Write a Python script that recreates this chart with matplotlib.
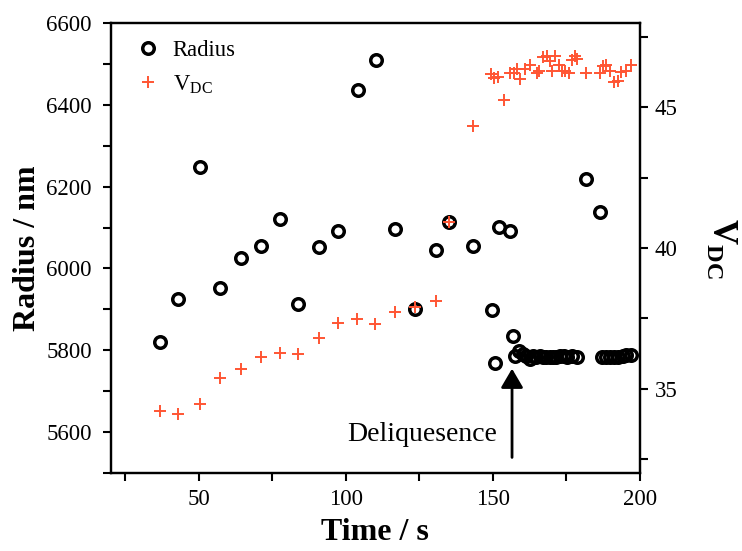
import matplotlib
matplotlib.use("Agg")
import matplotlib.pyplot as plt
from matplotlib.ticker import MultipleLocator, FuncFormatter

plt.rcParams['font.family'] = ['Liberation Serif', 'DejaVu Serif']
plt.rcParams['mathtext.fontset'] = 'custom'
plt.rcParams['mathtext.rm'] = 'Liberation Serif'
plt.rcParams['mathtext.bf'] = 'Liberation Serif:bold'

# Radius data (time in s, radius in nm)
time_r = [36.7, 43.1, 50.3, 57.3, 64.3, 71.0, 77.5, 83.7, 90.9, 97.3,
          104.2, 110.1, 116.6, 123.4, 130.6, 135.1, 143.3, 149.7, 150.7,
          152.0, 155.8, 156.7,
          157.5, 159.0, 160.3, 161.4, 162.6, 163.7, 164.8, 165.9, 167.1,
          168.2, 169.4, 170.5, 171.6, 172.8, 174.1, 175.3, 176.8, 178.7,
          181.6, 186.4,
          187.0, 188.4, 189.8, 191.1, 192.6, 194.1, 195.4, 197.1]
radius = [5821, 5925, 6247, 5952, 6025, 6055, 6120, 5913, 6052, 6091,
          6435, 6510, 6096, 5900, 6045, 6113, 6055, 5899, 5769,
          6101, 6091, 5834,
          5785, 5798, 5792, 5785, 5779, 5787, 5784, 5785, 5784,
          5784, 5784, 5784, 5784, 5785, 5787, 5784, 5787, 5784,
          6219, 6138,
          5784, 5784, 5784, 5784, 5784, 5785, 5789, 5789]

# V_DC data (time in s, voltage)
time_v = [36.7, 43.1, 50.3, 57.3, 64.3, 71.0, 77.5, 83.7, 90.9, 97.3,
          103.7, 109.9, 116.6, 123.4, 130.6, 135.1, 143.3, 149.5, 150.3,
          151.8, 153.8, 155.8, 157.0, 158.1, 159.2, 160.9, 162.6, 164.9,
          165.8, 167.1, 168.3, 169.4, 170.0, 171.1, 172.3, 173.4, 174.5,
          175.7, 176.8, 177.9, 178.7, 181.8, 186.3, 187.5, 188.6, 189.7,
          191.1, 192.6, 193.7, 195.2, 197.1]
vdc = [34.21, 34.10, 34.45, 35.38, 35.71, 36.13, 36.28, 36.24, 36.81, 37.32,
       37.46, 37.31, 37.72, 37.89, 38.11, 40.92, 44.35, 46.18, 46.04,
       46.09, 45.26, 46.23, 46.23, 46.36, 46.01, 46.36, 46.51, 46.23,
       46.30, 46.80, 46.83, 46.66, 46.28, 46.83, 46.51, 46.30, 46.28,
       46.21, 46.68, 46.83, 46.72, 46.21, 46.21, 46.48, 46.51, 46.30,
       45.89, 45.92, 46.24, 46.30, 46.51]

fig = plt.figure(figsize=(7.42, 5.51), dpi=100)
ax = fig.add_axes([0.149, 0.1416, 0.7135, 0.8167])
ax2 = ax.twinx()

red = '#FF5533'
h1, = ax.plot(time_r, radius, 'o', ms=8.3, mfc='none', mec='black', mew=2.5,
              label='Radius', zorder=2)
h2, = ax2.plot(time_v, vdc, '+', ms=8, color=red, mew=1.4,
               label=r'$\mathrm{V}_{\mathrm{DC}}$', zorder=3)

ax.set_xlim(20, 200)
ax.set_ylim(5500, 6600)
ax2.set_ylim(32, 48)

ax.xaxis.set_major_locator(MultipleLocator(25))
ax.xaxis.set_major_formatter(FuncFormatter(lambda v, p: f'{v:.0f}' if v % 50 == 0 else ''))
ax.yaxis.set_major_locator(MultipleLocator(100))
ax.yaxis.set_major_formatter(FuncFormatter(lambda v, p: f'{v:.0f}' if v % 200 == 0 else ''))
ax2.yaxis.set_major_locator(MultipleLocator(2.5))
ax2.yaxis.set_major_formatter(FuncFormatter(lambda v, p: f'{v:.0f}' if v % 5 == 0 else ''))

for a in (ax, ax2):
    for s in a.spines.values():
        s.set_linewidth(1.6)
    a.tick_params(length=5.5, width=1.5, labelsize=16.5, direction='out')
ax.tick_params(axis='x', pad=6)
ax.tick_params(axis='y', pad=8)
ax2.tick_params(axis='y', pad=5)

ax.set_xlabel('Time / s', fontsize=23, fontweight='bold', labelpad=6)
ax.set_ylabel('Radius / nm', fontsize=23, fontweight='bold', labelpad=3)
ax2.set_ylabel(r'$\mathbf{V}_{\mathbf{DC}}$', fontsize=25, rotation=270, labelpad=44)

ax.annotate('', xy=(156.5, 5755), xytext=(156.5, 5538),
            arrowprops=dict(arrowstyle='-|>,head_length=0.58,head_width=0.34',
                            mutation_scale=20, color='black', lw=2,
                            shrinkA=0, shrinkB=0))
ax.text(126, 5594, 'Deliquesence', fontsize=20, ha='center', va='center')

ax.legend(handles=[h1, h2], loc='upper left', frameon=False, fontsize=16.3,
          handletextpad=0.2, borderaxespad=0.35, labelspacing=0.55,
          handlelength=1.8)

fig.savefig('out.png', dpi=100)
